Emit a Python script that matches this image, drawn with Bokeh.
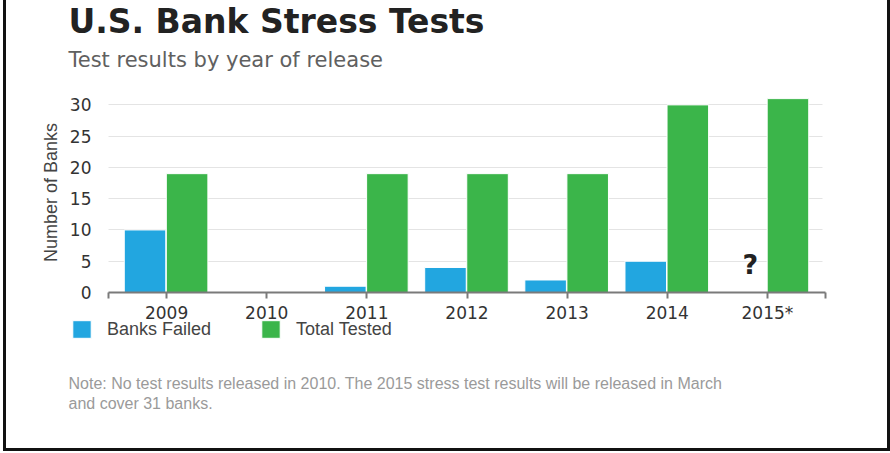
import math
from bokeh.plotting import figure
from bokeh.models import Label, Legend, LegendItem, FixedTicker
from bokeh.embed import file_html
from bokeh.resources import INLINE

years = [2009, 2010, 2011, 2012, 2013, 2014, 2015]
year_labels = ["2009", "2010", "2011", "2012", "2013", "2014", "2015*"]
fail_years = [2009, 2011, 2012, 2013, 2014]
banks_failed = [10, 1, 4, 2, 5]
tested_years = [2009, 2011, 2012, 2013, 2014, 2015]
total_tested = [19, 19, 19, 19, 30, 31]
y_ticks = [0, 5, 10, 15, 20, 25, 30]

BLUE = "#22a6e0"
GREEN = "#3bb54a"

# frame geometry (window pixels); canvas starts at window x = 6
FL, FB = 42, 416          # frame left, frame bottom in window px
def sx(x):
    return x - FL
def sy(y):
    return FB - y

p = figure(width=887, height=451, output_backend="svg", toolbar_location=None,
           x_range=(2007.761, 2016.199), y_range=(-19.83, 46.69),
           min_border_left=36, min_border_right=6, min_border_top=0, min_border_bottom=35)
p.styles = {"margin-left": "3px", "border-left": "3px solid #111111",
            "border-right": "3px solid #111111", "border-bottom": "3px solid #111111"}
p.title.visible = False
p.outline_line_color = None
p.background_fill_color = "white"
p.border_fill_color = "white"

r1 = p.vbar(x=[y - 0.215 for y in fail_years], top=banks_failed, width=0.415,
            fill_color=BLUE, line_color="#ffffff", line_width=1)
r2 = p.vbar(x=[y + 0.205 for y in tested_years], top=total_tested, width=0.415,
            fill_color=GREEN, line_color="#ffffff", line_width=1)

x_lo, x_hi = 2008.42, 2015.58

p.xgrid.grid_line_color = None
p.ygrid.grid_line_color = "#e4e4e4"
p.ygrid.cross_bounds = (x_lo, x_hi - 0.03)
p.yaxis.ticker = FixedTicker(ticks=y_ticks)

p.yaxis.fixed_location = x_lo
p.yaxis.axis_line_color = None
p.yaxis.major_tick_line_color = None
p.yaxis.minor_tick_line_color = None
p.yaxis.major_label_text_font = "DejaVu Sans"
p.yaxis.major_label_text_font_size = "17px"
p.yaxis.major_label_text_color = "#333333"
p.yaxis.major_label_standoff = 11

p.xaxis.fixed_location = 0
p.xaxis.bounds = (x_lo, x_hi)
p.xaxis.ticker = FixedTicker(ticks=[x_lo] + years + [x_hi])
ov = {y: lab for y, lab in zip(years, year_labels)}
ov[x_lo] = ""
ov[x_hi] = ""
p.xaxis.major_label_overrides = ov
p.xaxis.axis_line_color = "#7a7a7a"
p.xaxis.axis_line_width = 2
p.xaxis.major_tick_line_color = "#7a7a7a"
p.xaxis.major_tick_line_width = 2
p.xaxis.major_tick_out = 6
p.xaxis.major_tick_in = 0
p.xaxis.minor_tick_line_color = None
p.xaxis.major_label_text_font = "DejaVu Sans"
p.xaxis.major_label_text_font_size = "17px"
p.xaxis.major_label_text_color = "#333333"
p.xaxis.major_label_standoff = 5

p.add_layout(Label(x=2014.83, y=4.5, text="?", text_font="DejaVu Sans", text_font_style="bold",
                   text_font_size="27px", text_color="#222222", text_align="center",
                   text_baseline="middle"))

def screen_label(x, y, text, **kw):
    p.add_layout(Label(x=sx(x), y=sy(y), x_units="screen", y_units="screen", text=text, **kw))

screen_label(68, 21, "U.S. Bank Stress Tests", text_font="DejaVu Sans", text_font_style="bold",
             text_font_size="33px", text_color="#222222", text_baseline="alphabetic")
screen_label(68, 59, "Test results by year of release", text_font="DejaVu Sans",
             text_font_size="21px", text_color="#606060", text_baseline="alphabetic")
screen_label(50, 192, "Number of Banks", text_font="Liberation Sans", text_font_size="18px",
             text_color="#444444", text_align="center", text_baseline="middle", angle=math.pi / 2)
screen_label(68, 383, "Note: No test results released in 2010. The 2015 stress test results will be released in March",
             text_font="Liberation Sans", text_font_size="16px", text_color="#9a9a9a",
             text_baseline="alphabetic")
screen_label(68, 403, "and cover 31 banks.", text_font="Liberation Sans", text_font_size="16px",
             text_color="#9a9a9a", text_baseline="alphabetic")

for rend, name, lx in [(r1, "Banks Failed", 70), (r2, "Total Tested", 259)]:
    lg = Legend(items=[LegendItem(label=name, renderers=[rend])], location=(sx(lx), sy(340)),
                orientation="horizontal", glyph_width=23, glyph_height=22,
                label_text_font="Liberation Sans", label_text_font_size="18px",
                label_text_color="#444444", label_standoff=14, padding=0, margin=0,
                border_line_color=None, background_fill_alpha=0, spacing=0)
    p.add_layout(lg, "center")

open("out.html", "w").write(file_html(p, INLINE))
